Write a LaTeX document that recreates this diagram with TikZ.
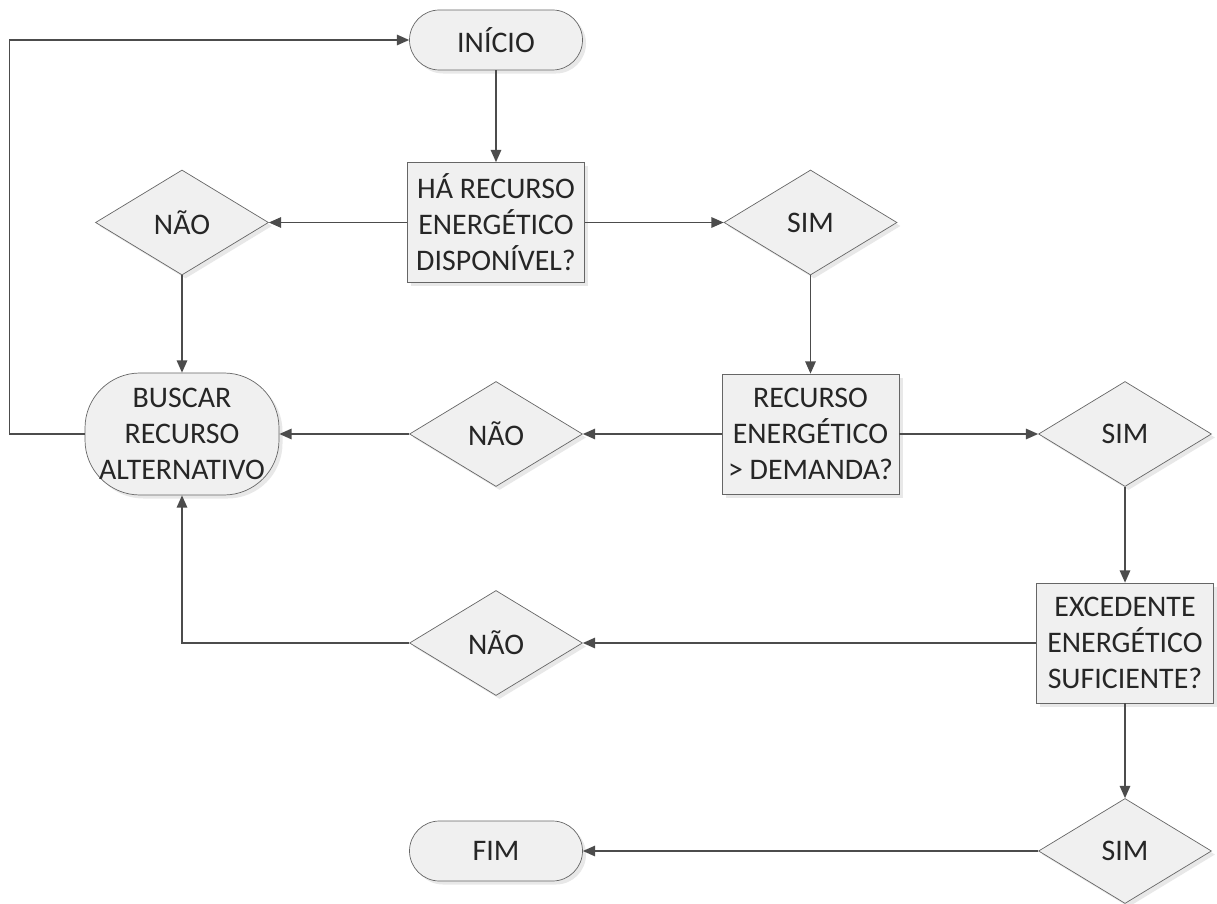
\documentclass[tikz,border=0pt]{standalone}
\usepackage{fontspec}
\setmainfont{Carlito}
\usepackage{tikz}
\usetikzlibrary{shapes.geometric, arrows.meta, positioning, shadows}
\tikzset{
    base/.style={draw=black!60, fill=gray!12, text=black!85, align=center,
                 inner sep=2pt, font=\fontsize{17}{20.5}\selectfont,
                 drop shadow={opacity=0.18, shadow xshift=2pt, shadow yshift=-2pt}},
    termbox/.style={base, rectangle, rounded corners=0.6cm,
                    minimum width=3.46cm, minimum height=1.2cm},
    procbox/.style={base, rectangle, minimum width=3.54cm, minimum height=2.4cm},
    decbox/.style={base, diamond, shape aspect=1.65, inner sep=0pt,
                   minimum width=3.46cm, minimum height=2.1cm},
    arrow/.style={-{Triangle[length=7pt, width=6pt]}, line width=0.8pt, draw=black!70},
}
\begin{document}
\begin{tikzpicture}
    \useasboundingbox (0,0) rectangle (24.34,-18.08);
    % column 1
    \node[termbox] (inicio) at (9.92,-0.80) {INÍCIO};
    \node[procbox] (recdisp) at (9.92,-4.45)
        {HÁ RECURSO\\ENERGÉTICO\\DISPONÍVEL?};
    \node[decbox] (naoA) at (3.64,-4.45) {NÃO};
    \node[decbox] (simA) at (16.21,-4.45) {SIM};
    \node[base, rectangle, rounded corners=1.1cm,
          minimum width=3.88cm, minimum height=2.44cm] (buscar) at (3.64,-8.68)
        {BUSCAR\\RECURSO\\ALTERNATIVO};
    % middle row
    \node[decbox] (naoB) at (9.92,-8.68) {NÃO};
    \node[procbox] (recdem) at (16.21,-8.68)
        {RECURSO\\ENERGÉTICO\\> DEMANDA?};
    \node[decbox] (simB) at (22.50,-8.68) {SIM};
    % lower rows
    \node[procbox] (excedente) at (22.50,-12.86)
        {EXCEDENTE\\ENERGÉTICO\\SUFICIENTE?};
    \node[decbox] (naoC) at (9.92,-12.86) {NÃO};
    \node[decbox] (simC) at (22.50,-17.02) {SIM};
    \node[termbox] (fim) at (9.92,-17.02) {FIM};
    % connectors
    \draw[arrow] (inicio) -- (recdisp);
    \draw[arrow] (recdisp) -- (naoA);
    \draw[arrow] (recdisp) -- (simA);
    \draw[arrow] (naoA) -- (buscar);
    \draw[arrow] (simA) -- (recdem);
    \draw[arrow] (recdem) -- (naoB);
    \draw[arrow] (recdem) -- (simB);
    \draw[arrow] (naoB) -- (buscar);
    \draw[arrow] (simB) -- (excedente);
    \draw[arrow] (excedente) -- (naoC);
    \draw[arrow] (naoC.west) -| (buscar.south);
    \draw[arrow] (excedente) -- (simC);
    \draw[arrow] (simC) -- (fim);
    \draw[arrow] (buscar.west) -- ++(-1.5,0) |- (inicio.west);
\end{tikzpicture}
\end{document}
